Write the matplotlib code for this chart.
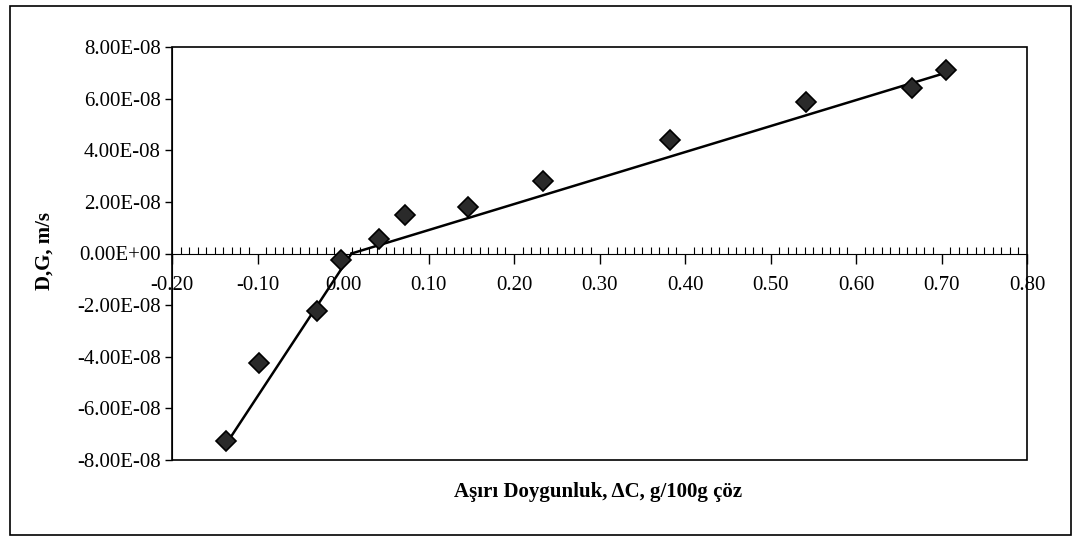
import numpy as np
import matplotlib.pyplot as plt
from matplotlib.patches import Rectangle
from matplotlib.ticker import MultipleLocator, FuncFormatter

# supersaturation (g/100g solvent) vs. growth/dissolution rate (m/s)
dc = [-0.137, -0.098, -0.030, -0.002, 0.042, 0.072, 0.146, 0.234, 0.382, 0.542, 0.666, 0.705]
rate = [-7.26e-8, -4.23e-8, -2.21e-8, -0.27e-8, 0.58e-8, 1.48e-8, 1.79e-8,
        2.80e-8, 4.39e-8, 5.86e-8, 6.41e-8, 7.11e-8]

# trend lines: dissolution branch and growth branch
fit_low_x = [-0.138, 0.010]
fit_low_y = [-7.45e-8, 0.0]
fit_high_x = [0.010, 0.705]
fit_high_y = [0.0, 7.0e-8]

plt.rcParams['font.family'] = ['Liberation Serif', 'DejaVu Serif']

W, H = 1073, 537
fig = plt.figure(figsize=(W / 100, H / 100), dpi=100)
ax = fig.add_axes([172 / W, 1 - 460 / H, 855 / W, 413 / H])

ax.plot(fit_low_x, fit_low_y, color='black', lw=1.8, zorder=2)
ax.plot(fit_high_x, fit_high_y, color='black', lw=1.8, zorder=2)
ax.plot(dc, rate, linestyle='none', marker='D', markersize=10,
        markerfacecolor='#2a2a2a', markeredgecolor='black', markeredgewidth=1.2, zorder=3)

ax.set_xlim(-0.20, 0.80)
ax.set_ylim(-8e-8, 8e-8)

# x axis sits on the zero line, box drawn separately
ax.spines['bottom'].set_position(('data', 0))
for s in ['top', 'right']:
    ax.spines[s].set_visible(False)
ax.add_patch(Rectangle((0, 0), 1, 1, transform=ax.transAxes, fill=False,
                       edgecolor='black', lw=1.2, zorder=1, clip_on=False))

ax.xaxis.set_major_locator(MultipleLocator(0.1))
ax.xaxis.set_minor_locator(MultipleLocator(0.01))
ax.xaxis.set_major_formatter(FuncFormatter(lambda v, p: f"{v:.2f}"))
ax.tick_params(axis='x', which='major', direction='out', length=7, width=1,
               labelsize=15, pad=9)
ax.tick_params(axis='x', which='minor', direction='in', length=5, width=0.8)

ax.yaxis.set_major_locator(MultipleLocator(2e-8))
ax.yaxis.set_major_formatter(FuncFormatter(
    lambda v, p: "0.00E+00" if abs(v) < 1e-12 else f"{v:.2E}"))
ax.tick_params(axis='y', which='major', direction='out', length=5, width=1,
               labelsize=15, pad=3)

fig.text(45 / W, 1 - 251 / H, "D,G, m/s", rotation=90, fontsize=15,
         fontweight='bold', ha='center', va='center')
fig.text(598 / W, 1 - 492 / H, "Aşırı Doygunluk, ΔC, g/100g çöz", fontsize=15,
         fontweight='bold', ha='center', va='center')

# outer chart frame
fig.patches.append(Rectangle((10 / W, 1 - 535 / H), 1061 / W, 529 / H,
                             transform=fig.transFigure, fill=False,
                             edgecolor='black', lw=1.2))

fig.savefig("out.png", dpi=100)
